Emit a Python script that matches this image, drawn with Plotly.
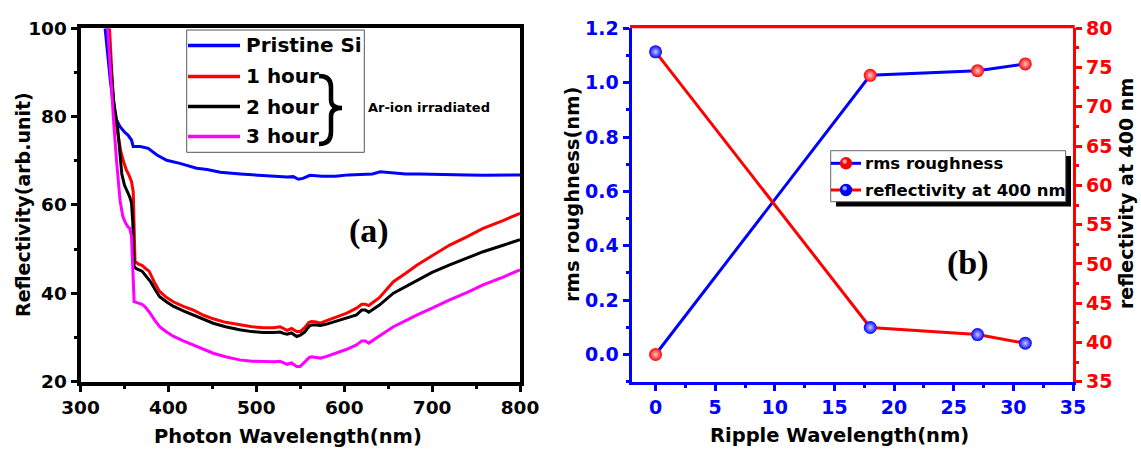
import plotly.graph_objects as go

W, H = 1141, 449

# ---------------- panel (a): reflectivity spectra ----------------
wl_pristine = [328, 334, 339, 345, 350, 354, 358, 360, 368, 377, 387, 398, 413, 432, 444,
               459, 482, 500, 519, 535, 542, 548, 553, 561, 575, 590, 605, 620, 632, 641,
               655, 670, 685, 700, 720, 740, 760, 780, 800]
r_pristine = [100, 88, 80, 77.7, 76.5, 75.8, 74.7, 73.2, 73.2, 72.8, 71.3, 70.1, 69.4, 68.3, 68.0,
              67.4, 67.0, 66.8, 66.6, 66.3, 66.4, 65.8, 66.0, 66.7, 66.5, 66.5, 66.8, 66.9, 67.0, 67.5,
              67.3, 67.0, 67.0, 66.9, 66.8, 66.8, 66.7, 66.8, 66.8]

wl_1h = [333, 337, 340, 343, 346, 349, 352, 355, 358, 360, 361, 362, 366, 370, 374, 378, 384,
         390, 398, 406, 417, 428, 440, 451, 465, 481, 495, 508, 520, 527, 531, 535, 540, 546,
         550, 555, 560, 563, 568, 573, 580, 591, 603, 614, 620, 624, 628, 640, 656, 670, 683,
         700, 720, 740, 758, 780, 800]
r_1h = [100, 85, 79, 75, 72, 69.8, 68, 66.8, 65.3, 63, 55, 47.2, 46.6, 46.3, 45.6, 45.0, 42.5,
        40.4, 39.0, 38.0, 37.0, 36.2, 35.0, 34.2, 33.4, 32.8, 32.4, 32.2, 32.2, 32.4, 32.0, 31.6,
        32.0, 31.3, 31.3, 32.2, 33.4, 33.6, 33.5, 33.2, 33.8, 34.7, 35.5, 36.6, 37.5, 37.5, 37.2,
        39.0, 42.6, 44.5, 46.4, 48.5, 50.9, 52.8, 54.7, 56.4, 58.1]

wl_2h = [331, 335, 338, 342, 345, 347, 350, 353, 356, 358, 359.5, 361, 364, 370, 375, 380, 385,
         390, 398, 406, 417, 428, 440, 451, 465, 481, 495, 508, 520, 527, 531, 535, 540, 546,
         550, 555, 560, 563, 568, 573, 580, 591, 603, 614, 620, 624, 628, 640, 656, 670, 683,
         700, 720, 740, 758, 780, 800]
r_2h = [100, 90, 83, 78, 71, 67, 64.5, 63.2, 61.8, 60.5, 56, 46, 45.5, 45.0, 43.8, 42.5, 40.8,
        39.2, 38.0, 37.0, 36.0, 35.1, 34.0, 33.2, 32.4, 31.7, 31.3, 31.1, 31.1, 31.2, 30.9, 30.7,
        31.0, 30.2, 30.5, 31.2, 32.5, 32.8, 32.8, 32.7, 33.0, 33.7, 34.4, 35.1, 36.2, 36.2, 35.7,
        37.3, 40.0, 41.5, 43.0, 44.7, 46.4, 47.9, 49.4, 50.8, 52.1]

wl_3h = [331, 334, 336, 338, 341, 345, 348, 351, 354, 356, 358, 359, 360, 361, 365, 370, 374,
         378, 384, 390, 398, 406, 417, 428, 440, 451, 465, 481, 495, 508, 520, 527, 531, 535,
         540, 546, 550, 555, 560, 563, 568, 573, 580, 591, 603, 614, 620, 624, 628, 640, 656,
         670, 683, 700, 720, 740, 758, 780, 800]
r_3h = [100, 90, 85, 78, 70, 61, 57.5, 56, 55, 54.7, 53, 49, 43, 38.1, 37.8, 37.5, 36.8,
        35.8, 34, 32.4, 31.2, 30.2, 29.2, 28.3, 27.3, 26.4, 25.6, 24.9, 24.6, 24.5, 24.5, 24.6,
        24.2, 23.9, 24.2, 23.4, 23.4, 24.3, 25.4, 25.6, 25.5, 25.3, 25.7, 26.4, 27.3, 28.3, 29.2,
        29.2, 28.7, 30.3, 32.4, 33.8, 35.1, 36.6, 38.5, 40.2, 41.9, 43.6, 45.3]

spectra_names = ["Pristine Si", "1 hour", "2 hour", "3 hour"]

# ---------------- panel (b): roughness / reflectivity vs ripple ----------------
ripple_wl = [0, 18, 27, 31]
rms_roughness = [0.0, 1.027, 1.044, 1.069]
refl_400 = [77.0, 41.9, 41.0, 39.9]

BLUE = "#0000ff"
RED = "#ff0000"
MAGENTA = "#ff00ff"
BLACK = "#000000"
SANS = "DejaVu Sans"
SERIF = "Liberation Serif"


def fx(p):
    return p / W


def fy(p):
    return 1 - p / H


fig = go.Figure()

spectra = [(wl_pristine, r_pristine, BLUE), (wl_1h, r_1h, RED),
           (wl_2h, r_2h, BLACK), (wl_3h, r_3h, MAGENTA)]
for name, (wl, r, col) in zip(spectra_names, spectra):
    fig.add_trace(go.Scatter(x=wl, y=r, name=name, mode="lines",
                             line=dict(color=col, width=3),
                             xaxis="x", yaxis="y", showlegend=False))

fig.add_trace(go.Scatter(x=ripple_wl, y=rms_roughness, name="rms roughness",
                         mode="lines+markers", xaxis="x2", yaxis="y2",
                         line=dict(color=BLUE, width=3),
                         marker=dict(size=13, color=RED,
                                     gradient=dict(type="radial", color="#ffc8c8")),
                         showlegend=False))
fig.add_trace(go.Scatter(x=ripple_wl, y=refl_400, name="reflectivity at 400 nm",
                         mode="lines+markers", xaxis="x2", yaxis="y3",
                         line=dict(color=RED, width=3),
                         marker=dict(size=13, color=BLUE,
                                     gradient=dict(type="radial", color="#c8c8ff")),
                         showlegend=False))


def tfont(color, size):
    return dict(family=SANS, size=size, color=color, weight="bold")


common = dict(showgrid=False, zeroline=False, showline=True, ticks="outside", automargin=False)

fig.update_layout(
    width=W, height=H,
    margin=dict(l=0, r=0, t=0, b=0, pad=0),
    paper_bgcolor="white", plot_bgcolor="rgba(0,0,0,0)",
    showlegend=False,
    xaxis=dict(**common, domain=[fx(80.5), fx(520)], range=[300, 800], anchor="y",
               linecolor=BLACK, linewidth=4, mirror=True,
               tick0=300, dtick=100, ticklen=6, tickwidth=3, tickcolor=BLACK,
               minor=dict(ticks="outside", dtick=50, ticklen=3, tickwidth=3, tickcolor=BLACK),
               tickfont=tfont(BLACK, 18.5)),
    yaxis=dict(**common, domain=[fy(381.5), fy(28.3)], range=[20, 100], anchor="x",
               linecolor=BLACK, linewidth=4, mirror=True,
               tick0=20, dtick=20, ticklen=6, tickwidth=3, tickcolor=BLACK,
               minor=dict(ticks="outside", dtick=10, ticklen=3, tickwidth=3, tickcolor=BLACK),
               tickfont=tfont(BLACK, 18.5)),
    xaxis2=dict(**common, domain=[fx(631.7), fx(1073)], range=[-2, 35], anchor="y2",
                linecolor=BLUE, linewidth=3.3,
                tick0=0, dtick=5, ticklen=6, tickwidth=3, tickcolor=BLUE,
                minor=dict(ticks="outside", dtick=2.5, ticklen=3, tickwidth=3, tickcolor=BLUE),
                tickfont=tfont(BLUE, 19)),
    yaxis2=dict(**common, domain=[fy(381.7), fy(28.3)], range=[-0.1, 1.2], anchor="x2",
                side="left", linecolor=BLUE, linewidth=3.3,
                tick0=0, dtick=0.2, tickformat=".1f", ticklen=6, tickwidth=3, tickcolor=BLUE,
                minor=dict(ticks="outside", dtick=0.1, ticklen=3, tickwidth=3, tickcolor=BLUE),
                tickfont=tfont(BLUE, 19)),
    yaxis3=dict(**common, overlaying="y2", anchor="x2", side="right",
                range=[35, 80], linecolor=RED, linewidth=3.3,
                tick0=35, dtick=5, ticklen=6, tickwidth=3, tickcolor=RED,
                minor=dict(ticks="outside", dtick=2.5, ticklen=3, tickwidth=3, tickcolor=RED),
                tickfont=tfont(RED, 19)),
)

shapes = []
annotations = []


def text(x, y, s, size, color=BLACK, angle=0, xanchor="center", family=SANS):
    annotations.append(dict(x=fx(x), y=fy(y), xref="paper", yref="paper", text=s,
                            showarrow=False, textangle=angle, xanchor=xanchor, yanchor="middle",
                            font=dict(family=family, size=size, color=color, weight="bold")))


# axis titles
text(288, 436, "Photon Wavelength(nm)", 19.5)
text(23, 205, "Reflectivity(arb.unit)", 19)
annotations[-1]["textangle"] = -90
text(839, 435, "Ripple Wavelength(nm)", 19.5)
text(572, 195, "rms roughness(nm)", 19.5, angle=-90)
text(1126, 194, "reflectivity at 400 nm", 19, angle=-90)

# panel labels
text(369, 231, "(a)", 34, family=SERIF)
text(968, 263, "(b)", 34, family=SERIF)

# top frame of panel (b) in red
shapes.append(dict(type="line", xref="paper", yref="paper", x0=fx(630), x1=fx(1074.7),
                   y0=fy(26.7), y1=fy(26.7), line=dict(color=RED, width=3.3)))

# legend of panel (a)
shapes.append(dict(type="rect", xref="paper", yref="paper", x0=fx(186.7), x1=fx(364.3),
                   y0=fy(152.3), y1=fy(30), fillcolor="white", line=dict(color="#555555", width=1)))
leg_rows = [45.5, 76.5, 106.5, 136.5]
for yrow, name, col in zip(leg_rows, spectra_names, [BLUE, RED, BLACK, MAGENTA]):
    shapes.append(dict(type="line", xref="paper", yref="paper", x0=fx(188), x1=fx(240),
                       y0=fy(yrow), y1=fy(yrow), line=dict(color=col, width=3.5)))
    text(244, yrow, name, 20, xanchor="left")

# brace grouping the irradiated samples
brace = [("M", 319, 76), ("Q", 331, 76, 331, 87), ("L", 331, 100), ("Q", 331, 108, 342, 108),
         ("Q", 331, 108, 331, 116), ("L", 331, 132), ("Q", 331, 144, 319, 144)]
path = ""
for seg in brace:
    cmd, pts = seg[0], seg[1:]
    coords = " ".join(f"{fx(pts[i]):.5f},{fy(pts[i + 1]):.5f}" for i in range(0, len(pts), 2))
    path += f"{cmd} {coords} "
shapes.append(dict(type="path", xref="paper", yref="paper", path=path.strip(),
                   line=dict(color=BLACK, width=4.5)))
text(366, 108, "Ar-ion irradiated", 13, xanchor="left")

# legend of panel (b), with drop shadow
shapes.append(dict(type="rect", xref="paper", yref="paper", x0=fx(836), x1=fx(1071),
                   y0=fy(206.5), y1=fy(156), fillcolor=BLACK, line=dict(width=0)))
shapes.append(dict(type="rect", xref="paper", yref="paper", x0=fx(830.7), x1=fx(1065.7),
                   y0=fy(201.7), y1=fy(150.7), fillcolor="white", line=dict(color="#666666", width=1)))
leg_b = [(163.3, "rms roughness", BLUE, RED, "#ff9c9c"),
         (190.0, "reflectivity at 400 nm", RED, BLUE, "#9c9cff")]
for yrow, name, lcol, mcol, hcol in leg_b:
    shapes.append(dict(type="line", xref="paper", yref="paper", x0=fx(831), x1=fx(861),
                       y0=fy(yrow), y1=fy(yrow), line=dict(color=lcol, width=3)))
    r = 6.2
    shapes.append(dict(type="circle", xref="paper", yref="paper", x0=fx(846 - r), x1=fx(846 + r),
                       y0=fy(yrow + r), y1=fy(yrow - r), fillcolor=mcol, line=dict(width=0)))
    shapes.append(dict(type="circle", xref="paper", yref="paper", x0=fx(842.5), x1=fx(847),
                       y0=fy(yrow + 0.5), y1=fy(yrow - 4), fillcolor=hcol, line=dict(width=0)))
    text(863, yrow, name, 16.5, xanchor="left")

fig.update_layout(shapes=shapes, annotations=annotations)
fig.write_html("out.html")
